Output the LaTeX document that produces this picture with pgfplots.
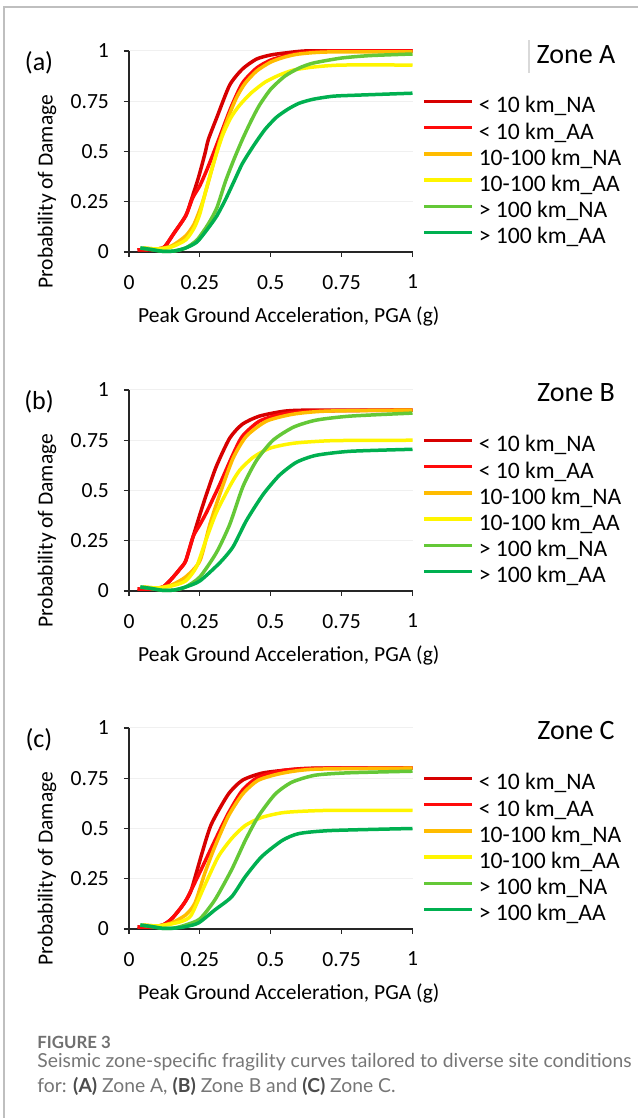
\documentclass[border=0pt]{standalone}
\usepackage{pgfplots}
\pgfplotsset{compat=1.18}
\usepackage{fontspec}
\setmainfont{Carlito}
\newfontfamily\capfont{Lato}
\definecolor{cDR}{RGB}{215,0,0}
\definecolor{cR}{RGB}{255,10,10}
\definecolor{cO}{RGB}{255,188,0}
\definecolor{cY}{RGB}{255,245,0}
\definecolor{cLG}{RGB}{100,200,55}
\definecolor{cDG}{RGB}{0,176,80}
\definecolor{capgray}{RGB}{118,118,118}
\pgfplotsset{
  panel/.style={
    scale only axis, width=141.75pt, height=100.5pt,
    xmin=0, xmax=1, ymin=0, ymax=1, clip=false,
    axis lines=left, axis line style={-, black!85, line width=0.6pt},
    tick align=outside, major tick length=2.5pt,
    tick style={black!85, line width=0.6pt},
    xtick={0,0.25,0.5,0.75,1}, ytick={0,0.25,0.5,0.75,1},
    xticklabels={0,0.25,0.5,0.75,1}, yticklabels={0,0.25,0.5,0.75,1},
    ymajorgrids, grid style={black!6, line width=0.5pt},
    ticklabel style={font=\fontsize{10.8}{12}\selectfont, text=black},
    xticklabel style={yshift=-5.5pt},
    yticklabel style={xshift=-4pt},
    label style={font=\fontsize{10.75}{13}\selectfont},
    xlabel={Peak Ground Acceleration, PGA (g)},
    ylabel={Probability of Damage},
    xlabel style={at={(axis description cs:0.5,0)}, anchor=center, yshift=-32pt, xshift=9pt},
    ylabel style={at={(axis description cs:-0.289,0.30)}, anchor=center},
    every axis plot/.append style={line width=1.75pt, smooth, tension=0.4, no markers},
    legend cell align=left,
    legend style={at={(axis description cs:1.033,0.78)}, anchor=north west,
      draw=none, fill=none, inner sep=0pt, row sep=0pt,
      font=\fontsize{11.8}{13}\selectfont,
      nodes={inner sep=0pt, text height=8.6pt, text depth=4.5pt}},
    legend image code/.code={\draw[##1, line width=1.75pt] (0pt,3.6pt) -- (24pt,3.6pt);
      \path (26.5pt,3.6pt);},
  }
}
\begin{document}
\begin{tikzpicture}[x=0.5pt,y=0.5pt]
\path[fill=white, use as bounding box] (0,0) rectangle (638,1118);
\draw[black!25, line width=0.6pt] (4,0) -- (4,1111) -- (638,1111);

% ---------------- Panel (a)
\begin{axis}[panel, at={(64.5pt,433pt)}, anchor=south west]
\addplot[cDR] coordinates {(0.03,0.01)(0.08,0.012)(0.12,0.02)(0.135,0.043)(0.157,0.09)(0.2,0.18)(0.22,0.26)(0.245,0.37)(0.268,0.49)(0.28,0.56)(0.31,0.67)(0.355,0.83)(0.40,0.91)(0.45,0.96)(0.5,0.98)(0.55,0.99)(0.62,1.0)(0.75,1.0)(1.0,1.0)};
\addplot[cR] coordinates {(0.03,0.01)(0.08,0.012)(0.12,0.02)(0.135,0.043)(0.157,0.09)(0.2,0.18)(0.225,0.27)(0.25,0.33)(0.275,0.41)(0.303,0.51)(0.33,0.61)(0.36,0.72)(0.4,0.84)(0.45,0.915)(0.5,0.955)(0.55,0.975)(0.6,0.99)(0.7,1.0)(1.0,1.0)};
\addplot[cO] coordinates {(0.05,0.02)(0.1,0.015)(0.15,0.03)(0.2,0.08)(0.23,0.14)(0.26,0.25)(0.29,0.40)(0.32,0.55)(0.35,0.67)(0.38,0.77)(0.41,0.84)(0.45,0.9)(0.5,0.945)(0.55,0.97)(0.6,0.985)(0.7,0.995)(1.0,0.995)};
\addplot[cY] coordinates {(0.05,0.02)(0.1,0.015)(0.15,0.025)(0.2,0.06)(0.23,0.12)(0.25,0.19)(0.27,0.30)(0.30,0.45)(0.33,0.58)(0.36,0.67)(0.39,0.73)(0.43,0.79)(0.48,0.845)(0.53,0.88)(0.58,0.905)(0.65,0.92)(0.75,0.93)(1.0,0.93)};
\addplot[cLG] coordinates {(0.04,0.02)(0.08,0.012)(0.12,0.003)(0.16,0.005)(0.2,0.02)(0.24,0.06)(0.28,0.14)(0.31,0.22)(0.34,0.35)(0.37,0.46)(0.40,0.56)(0.43,0.65)(0.46,0.73)(0.5,0.81)(0.55,0.875)(0.6,0.915)(0.65,0.94)(0.75,0.965)(0.85,0.977)(1.0,0.985)};
\addplot[cDG] coordinates {(0.04,0.02)(0.08,0.012)(0.12,0.003)(0.16,0.005)(0.2,0.02)(0.24,0.05)(0.28,0.12)(0.31,0.18)(0.34,0.26)(0.37,0.35)(0.40,0.44)(0.44,0.53)(0.48,0.61)(0.52,0.67)(0.56,0.71)(0.6,0.74)(0.65,0.76)(0.72,0.775)(0.8,0.78)(1.0,0.79)};
\legend{< 10 km\_NA, < 10 km\_AA, 10-100 km\_NA, 10-100 km\_AA, > 100 km\_NA, > 100 km\_AA}
\end{axis}

% ---------------- Panel (b)
\begin{axis}[panel, at={(64.5pt,263.5pt)}, anchor=south west]
\addplot[cDR] coordinates {(0.03,0.01)(0.08,0.01)(0.12,0.02)(0.15,0.06)(0.18,0.11)(0.2,0.15)(0.226,0.27)(0.25,0.38)(0.273,0.48)(0.308,0.62)(0.355,0.76)(0.40,0.83)(0.46,0.87)(0.55,0.895)(0.65,0.9)(1.0,0.9)};
\addplot[cR] coordinates {(0.03,0.01)(0.08,0.01)(0.12,0.02)(0.15,0.06)(0.18,0.11)(0.2,0.15)(0.226,0.27)(0.25,0.33)(0.273,0.39)(0.3,0.47)(0.32,0.53)(0.367,0.68)(0.40,0.77)(0.46,0.845)(0.54,0.88)(0.65,0.895)(1.0,0.9)};
\addplot[cO] coordinates {(0.05,0.02)(0.1,0.015)(0.15,0.03)(0.2,0.07)(0.25,0.15)(0.285,0.33)(0.32,0.48)(0.367,0.66)(0.414,0.77)(0.485,0.845)(0.58,0.88)(0.7,0.895)(1.0,0.9)};
\addplot[cY] coordinates {(0.05,0.02)(0.1,0.015)(0.15,0.025)(0.2,0.05)(0.238,0.12)(0.273,0.26)(0.308,0.39)(0.355,0.52)(0.39,0.60)(0.438,0.665)(0.496,0.71)(0.58,0.735)(0.72,0.748)(1.0,0.75)};
\addplot[cLG] coordinates {(0.04,0.02)(0.08,0.012)(0.12,0.003)(0.16,0.005)(0.2,0.02)(0.25,0.07)(0.308,0.19)(0.355,0.33)(0.402,0.52)(0.45,0.65)(0.508,0.75)(0.58,0.815)(0.66,0.85)(0.78,0.87)(1.0,0.885)};
\addplot[cDG] coordinates {(0.04,0.02)(0.08,0.012)(0.12,0.003)(0.16,0.005)(0.2,0.02)(0.25,0.05)(0.32,0.14)(0.367,0.22)(0.414,0.35)(0.473,0.48)(0.53,0.575)(0.59,0.64)(0.66,0.675)(0.78,0.695)(1.0,0.705)};
\legend{< 10 km\_NA, < 10 km\_AA, 10-100 km\_NA, 10-100 km\_AA, > 100 km\_NA, > 100 km\_AA}
\end{axis}

% ---------------- Panel (c)
\begin{axis}[panel, at={(64.5pt,94.5pt)}, anchor=south west]
\addplot[cDR] coordinates {(0.03,0.01)(0.08,0.01)(0.12,0.02)(0.15,0.05)(0.18,0.1)(0.2,0.14)(0.22,0.195)(0.256,0.37)(0.29,0.52)(0.35,0.67)(0.40,0.74)(0.468,0.775)(0.55,0.79)(0.65,0.8)(1.0,0.8)};
\addplot[cR] coordinates {(0.03,0.01)(0.08,0.01)(0.12,0.02)(0.15,0.05)(0.18,0.1)(0.2,0.14)(0.22,0.195)(0.256,0.30)(0.303,0.44)(0.35,0.575)(0.40,0.69)(0.456,0.755)(0.55,0.79)(0.7,0.8)(1.0,0.8)};
\addplot[cO] coordinates {(0.05,0.02)(0.1,0.015)(0.15,0.03)(0.2,0.07)(0.233,0.13)(0.268,0.28)(0.303,0.41)(0.35,0.56)(0.40,0.67)(0.456,0.74)(0.54,0.775)(0.656,0.795)(1.0,0.8)};
\addplot[cY] coordinates {(0.05,0.02)(0.1,0.015)(0.15,0.025)(0.19,0.04)(0.22,0.07)(0.268,0.22)(0.315,0.36)(0.362,0.45)(0.41,0.515)(0.468,0.555)(0.55,0.58)(0.7,0.59)(1.0,0.59)};
\addplot[cLG] coordinates {(0.04,0.02)(0.08,0.012)(0.12,0.003)(0.16,0.005)(0.2,0.02)(0.25,0.05)(0.303,0.145)(0.362,0.295)(0.41,0.44)(0.456,0.56)(0.515,0.67)(0.574,0.73)(0.656,0.765)(0.774,0.777)(1.0,0.785)};
\addplot[cDG] coordinates {(0.04,0.02)(0.08,0.012)(0.12,0.003)(0.16,0.004)(0.2,0.012)(0.245,0.03)(0.303,0.095)(0.362,0.16)(0.41,0.26)(0.468,0.36)(0.54,0.44)(0.6,0.475)(0.715,0.49)(1.0,0.50)};
\legend{< 10 km\_NA, < 10 km\_AA, 10-100 km\_NA, 10-100 km\_AA, > 100 km\_NA, > 100 km\_AA}
\end{axis}

% ---------------- Panel letters and zone titles
\node[font=\fontsize{13}{15}\selectfont] at (39,1055) {(a)};
\node[font=\fontsize{13}{15}\selectfont] at (39,716) {(b)};
\node[font=\fontsize{13}{15}\selectfont] at (39,378) {(c)};
\draw[black!15, line width=0.6pt] (529,1045) -- (529,1078);
\node[font=\fontsize{14}{16}\selectfont] at (576,1063) {Zone A};
\node[font=\fontsize{14}{16}\selectfont] at (576,725) {Zone B};
\node[font=\fontsize{14}{16}\selectfont] at (576,387) {Zone C};

% ---------------- Caption
\node[anchor=west, inner sep=0pt, text=capgray!95!black, font=\capfont\bfseries\fontsize{8.4}{10}\selectfont] at (37,76) {FIGURE 3};
\node[anchor=west, inner sep=0pt, text=capgray, font=\capfont\fontsize{9.65}{11}\selectfont] at (37,56) {Seismic zone-specific fragility curves tailored to diverse site conditions};
\node[anchor=west, inner sep=0pt, text=capgray, font=\capfont\fontsize{9.65}{11}\selectfont] at (37,32) {for: {\bfseries\color{black!70}(A)} Zone A, {\bfseries\color{black!70}(B)} Zone B and {\bfseries\color{black!70}(C)} Zone C.};
\end{tikzpicture}
\end{document}
